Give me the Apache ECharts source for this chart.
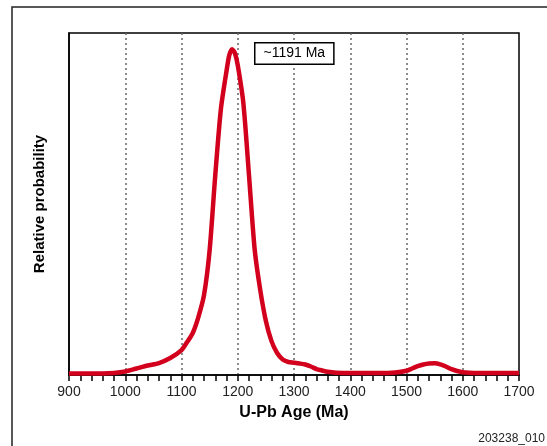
<!DOCTYPE html>
<html>
<head>
<meta charset="utf-8">
<script src="https://cdn.jsdelivr.net/npm/echarts@6/dist/echarts.min.js"></script>
<style>
html,body{margin:0;padding:0;background:#fff;}
#chart{width:547px;height:446px;}
</style>
</head>
<body>
<div id="chart"></div>
<script>
// U-Pb ages (Ma) and relative probability (peak = 100)
var ages = [900, 920, 940, 960, 980, 1000, 1020, 1040, 1060, 1080, 1100, 1110, 1120, 1130, 1140, 1150, 1160, 1170, 1180, 1185, 1190, 1195, 1200, 1210, 1220, 1230, 1240, 1250, 1260, 1270, 1280, 1290, 1300, 1310, 1320, 1330, 1340, 1350, 1360, 1375, 1400, 1450, 1480, 1500, 1510, 1520, 1530, 1540, 1550, 1560, 1570, 1580, 1590, 1600, 1620, 1700];
var prob = [0.46, 0.46, 0.46, 0.46, 0.61, 1.07, 1.99, 2.91, 3.68, 5.21, 7.67, 10.1, 12.9, 17.8, 24.5, 38.3, 61.3, 81.6, 93.3, 98.2, 100, 98.8, 95.1, 83.4, 61.3, 38.7, 26.1, 16.6, 10.4, 6.75, 4.75, 3.99, 3.77, 3.53, 3.22, 2.61, 1.84, 1.38, 0.98, 0.71, 0.61, 0.61, 0.77, 1.32, 1.99, 2.70, 3.22, 3.53, 3.59, 3.28, 2.61, 1.78, 1.23, 0.86, 0.61, 0.61];
var xTicks = [900, 1000, 1100, 1200, 1300, 1400, 1500, 1600, 1700];
var peakLabel = '~1191 Ma';
var figureId = '203238_010';
var xName = 'U-Pb Age (Ma)';
var yName = 'Relative probability';

var seriesData = ages.map(function (a, i) { return [a, prob[i]]; });
var FONT = '"Liberation Sans", Arial, sans-serif';

var chart = echarts.init(document.getElementById('chart'), null, {renderer: 'canvas'});
chart.setOption({
  animation: false,
  backgroundColor: '#fff',
  grid: {left: 69, top: 33, right: 28, bottom: 71, show: true, borderColor: '#000', borderWidth: 1.5, backgroundColor: 'transparent'},
  xAxis: {
    type: 'value',
    min: xTicks[0],
    max: xTicks[xTicks.length - 1],
    interval: 100,
    name: xName,
    nameLocation: 'middle',
    nameGap: 30,
    nameTextStyle: {fontFamily: FONT, fontSize: 16, fontWeight: 'bold', color: '#000'},
    axisLine: {show: true, onZero: false, lineStyle: {color: '#000', width: 1.5}},
    axisTick: {show: true, inside: false, length: 6, lineStyle: {color: '#000', width: 1.5}},
    minorTick: {show: true, splitNumber: 5, length: 6, lineStyle: {color: '#000', width: 1.5}},
    axisLabel: {fontFamily: FONT, fontSize: 14, color: '#222', margin: 10,
      formatter: function (v) { return xTicks.indexOf(v) >= 0 ? String(v) : ''; }},
    splitLine: {show: true, showMinLine: false, showMaxLine: false, lineStyle: {color: '#666', width: 1.5, type: [2, 3]}}
  },
  yAxis: {
    type: 'value',
    min: 0,
    max: 105,
    name: yName,
    nameLocation: 'middle',
    nameGap: 22,
    nameTextStyle: {fontFamily: FONT, fontSize: 15, fontWeight: 'bold', color: '#000'},
    axisLine: {show: true, lineStyle: {color: '#000', width: 1.5}},
    axisTick: {show: false},
    axisLabel: {show: false},
    splitLine: {show: false}
  },
  series: [{
    type: 'line',
    data: seriesData,
    smooth: 0.25,
    showSymbol: false,
    lineStyle: {color: '#d2001c', width: 4.5},
    z: 3
  }],
  graphic: [
    {type: 'rect', shape: {x: 12, y: 7, width: 600, height: 500}, style: {fill: 'none', stroke: '#222', lineWidth: 1.5}, silent: true, z: 0},
    {type: 'text', left: 254, top: 42, z: 10,
      style: {text: peakLabel, font: '14px ' + FONT, fill: '#000', backgroundColor: '#fff', borderColor: '#000', borderWidth: 1.5, padding: [3, 8, 3, 8]}},
    {type: 'text', right: 2, top: 433,
      style: {text: figureId, font: '12px ' + FONT, fill: '#222'}}
  ]
});
</script>
</body>
</html>
